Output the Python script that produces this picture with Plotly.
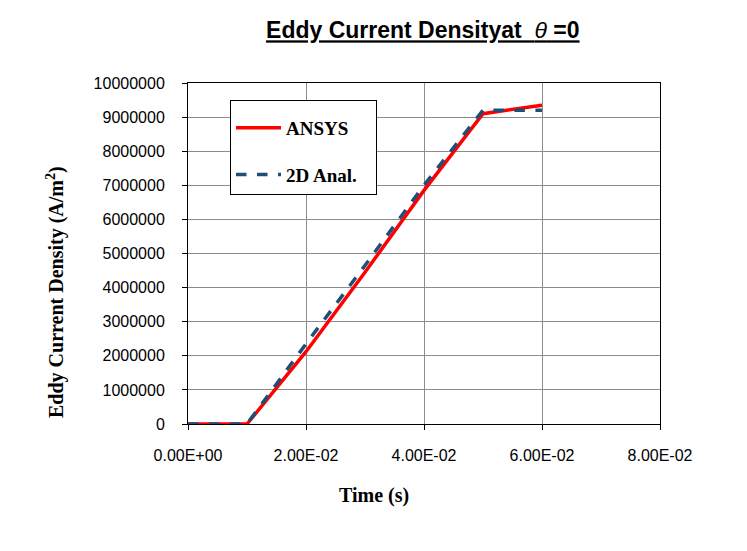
import plotly.graph_objects as go

time_s = [0.0, 0.01, 0.02, 0.03, 0.04, 0.05, 0.06]
ansys = [0, 0, 2.12e6, 4.45e6, 6.85e6, 9.1e6, 9.35e6]
anal_2d = [0, 0, 2.35e6, 4.65e6, 7.0e6, 9.2e6, 9.2e6]

x_tickvals = [0.0, 0.02, 0.04, 0.06, 0.08]
x_ticktext = ["0.00E+00", "2.00E-02", "4.00E-02", "6.00E-02", "8.00E-02"]
y_tickvals = [0, 1e6, 2e6, 3e6, 4e6, 5e6, 6e6, 7e6, 8e6, 9e6, 1e7]
y_ticktext = [str(int(v)) for v in y_tickvals]

fig = go.Figure()
fig.add_trace(go.Scatter(x=time_s, y=ansys, mode="lines", name="<b>ANSYS</b>",
                         legendgroup="a",
                         line=dict(color="#FF0000", width=3.5)))
fig.add_trace(go.Scatter(x=time_s, y=anal_2d, mode="lines",
                         name="<b>2D Anal.</b>\u00a0\u00a0\u00a0",
                         legendgroup="b",
                         line=dict(color="#1F4E79", width=3.5, dash="dash")))

axis_common = dict(showline=True, linecolor="black", linewidth=1, mirror=True,
                   showgrid=True, gridcolor="#8C8C8C", gridwidth=1,
                   ticks="outside", ticklen=5, tickcolor="black", zeroline=False,
                   tickfont=dict(family="Liberation Sans, Arial", size=16, color="black"))

serif = "Liberation Serif, Times New Roman"

fig.update_layout(
    width=747, height=551,
    margin=dict(l=188, r=87, t=83, b=127),
    paper_bgcolor="white", plot_bgcolor="white",
    title=dict(text="<u><b>Eddy Current Densityat  </b><i>θ</i><b> =0</b></u>",
               x=0.566, xanchor="center", y=0.945, yanchor="middle",
               font=dict(family="Liberation Sans, Arial", size=23, color="black")),
    xaxis=dict(range=[0, 0.08], tickvals=x_tickvals, ticktext=x_ticktext,
               ticklabelstandoff=12, **axis_common),
    yaxis=dict(range=[0, 1e7], tickvals=y_tickvals, ticktext=y_ticktext,
               ticklabelstandoff=14, **axis_common),
    legend=dict(x=0.089, y=0.95, xanchor="left", yanchor="top",
                bgcolor="white", bordercolor="black", borderwidth=1,
                traceorder="grouped", tracegroupgap=19, itemwidth=45,
                title=dict(text=" ", font=dict(size=6)),
                font=dict(family=serif, size=19, color="black")),
    annotations=[
        dict(text="<b>Time (s)</b>", xref="paper", yref="paper",
             x=(374 - 188) / 472, y=-(495 - 424) / 341, xanchor="center", yanchor="middle",
             showarrow=False, font=dict(family=serif, size=20, color="black")),
        dict(text="<b>Eddy Current Density (A/m<sup>2</sup>)</b>", xref="paper", yref="paper",
             x=-(188 - 55) / 472, y=(424 - 292) / 341, xanchor="center", yanchor="middle",
             textangle=-90, showarrow=False, font=dict(family=serif, size=20, color="black")),
    ],
)

fig.write_html("out.html")
